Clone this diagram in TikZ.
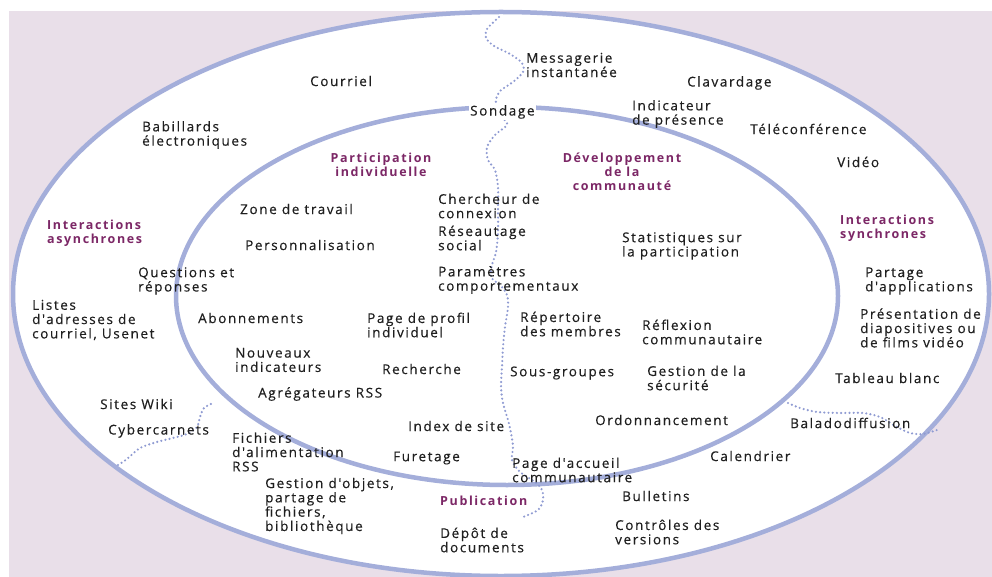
\documentclass[tikz,border=0pt]{standalone}
\usepackage{fontspec}
\setmainfont{Open Sans}[LetterSpace=13]
\newfontfamily\itemfont{Open Sans}[LetterSpace=12, FakeBold=0.35]
\definecolor{ringblue}{HTML}{A4AEDA}
\definecolor{dotblue}{HTML}{8F9BD2}
\definecolor{backpink}{HTML}{E9DFE9}
\definecolor{plum}{HTML}{7C2766}
\definecolor{ink}{HTML}{1F1F1F}
\tikzset{
    item/.style={anchor=west, align=left, inner sep=0pt, text=ink,
        font=\itemfont\fontsize{13.5}{14.3}\selectfont},
    zone/.style={align=center, inner sep=0pt, text=plum,
        font=\fontsize{12.5}{14}\selectfont\bfseries},
    ring/.style={draw=ringblue, line width=4.5pt},
    border/.style={draw=dotblue, line width=2.4pt, line cap=round,
        dash pattern=on 0pt off 4.2pt}
}

\begin{document}
\begin{tikzpicture}[x=1pt, y=-1pt]
    \useasboundingbox (0,0) rectangle (992,577);
    \fill[backpink] (9,11) rectangle (992,577);
    % rings
    \filldraw[ring, fill=white] (501,294) ellipse [x radius=488, y radius=282];
    \draw[ring] (507,296) ellipse [x radius=331, y radius=189];
    % borders between the zones
    \draw[border] plot[smooth] coordinates {
        (499,17) (487,29) (486,38) (494,46) (510,54) (522,63) (523,72) (513,82)
        (500,91) (496,100) (497,110) (503,118) (507,125) (495,135) (487,147)
        (488,160) (495,170) (498,187) (498,210) (498,233) (496,252) (492,265)
        (491,277) (501,286) (507,295) (508,307) (505,327) (503,347) (502,367)
        (501,387) (503,403) (508,420) (511,433) (513,447) (512,460) (520,472)
        (535,482) (542,490) (543,500) (538,510) (523,517)};
    \draw[border] plot[smooth] coordinates {
        (118,465) (127,459) (140,448) (157,442) (173,438) (187,434) (197,427)
        (200,417) (204,408) (213,403)};
    \draw[border] plot[smooth] coordinates {
        (788,403) (800,408) (817,412) (840,413) (863,413) (880,417) (897,427)
        (910,433) (923,434) (937,430)};

    % interactions asynchrones
    \node[zone, anchor=west, align=left] (asynch) at (47,233) {Interactions\\asynchrones};
    \node[item] (courriel) at (310,81) {Courriel};
    \node[item] (babillards) at (142,135) {Babillards\\électroniques};
    \node[item] (questions) at (138,281) {Questions et\\réponses};
    \node[item] (listes) at (32,320) {Listes\\d'adresses de\\courriel, Usenet};
    \node[item] (wiki) at (100,404) {Sites Wiki};
    \node[item] (cyber) at (108,431) {Cybercarnets};
    \node[item] (fichiers) at (232,452) {Fichiers\\d'alimentation\\RSS};
    \node[item] (gestion) at (265,506) {Gestion d'objets,\\partage de\\fichiers,\\bibliothèque};

    % interactions synchrones
    \node[zone, anchor=west, align=left] (synch) at (840,228) {Interactions\\synchrones};
    \node[item] (messagerie) at (526,65) {Messagerie\\instantanée};
    \node[item, fill=white, inner sep=1pt] (sondage) at (469,112) {Sondage};
    \node[item] (clavardage) at (687,83) {Clavardage};
    \node[item] (presence) at (632,114) {Indicateur\\de présence};
    \node[item] (teleconf) at (750,129) {Téléconférence};
    \node[item] (video) at (837,162) {Vidéo};
    \node[item] (partage) at (865,281) {Partage\\d'applications};
    \node[item] (diapos) at (860,328) {Présentation de\\diapositives ou\\de films vidéo};
    \node[item] (tableau) at (835,378) {Tableau blanc};
    \node[item] (balado) at (790,423) {Baladodiffusion};
    \node[item] (calendrier) at (710,456) {Calendrier};
    \node[item] (bulletins) at (622,496) {Bulletins};
    \node[item] (versions) at (615,532) {Contrôles des\\versions};

    % publication
    \node[zone, anchor=west] (publication) at (440,501) {Publication};
    \node[item] (depot) at (440,540) {Dépôt de\\documents};

    % participation individuelle
    \node[zone] (particip) at (381,165) {Participation\\individuelle};
    \node[item] (zonetravail) at (240,209) {Zone de travail};
    \node[item] (perso) at (245,245) {Personnalisation};
    \node[item] (abonnements) at (198,318) {Abonnements};
    \node[item] (profil) at (367,325) {Page de profil\\individuel};
    \node[item] (nouveaux) at (235,360) {Nouveaux\\indicateurs};
    \node[item] (recherche) at (382,369) {Recherche};
    \node[item] (agregateurs) at (258,394) {Agrégateurs RSS};
    \node[item] (index) at (408,426) {Index de site};
    \node[item] (furetage) at (393,458) {Furetage};
    \node[item] (chercheur) at (438,206) {Chercheur de\\connexion};
    \node[item] (reseautage) at (438,238) {Réseautage\\social};
    \node[item] (parametres) at (438,280) {Paramètres\\comportementaux};

    % developpement de la communaute
    \node[zone] (devel) at (622,172) {Développement\\de la\\communauté};
    \node[item] (stats) at (622,246) {Statistiques sur\\la participation};
    \node[item] (repertoire) at (520,324) {Répertoire\\des membres};
    \node[item] (reflexion) at (642,332) {Réflexion\\communautaire};
    \node[item] (sousgroupes) at (510,373) {Sous-groupes};
    \node[item] (securite) at (647,378) {Gestion de la\\sécurité};
    \node[item] (ordonnancement) at (595,420) {Ordonnancement};
    \node[item] (accueil) at (512,470) {Page d'accueil\\communautaire};
\end{tikzpicture}
\end{document}
